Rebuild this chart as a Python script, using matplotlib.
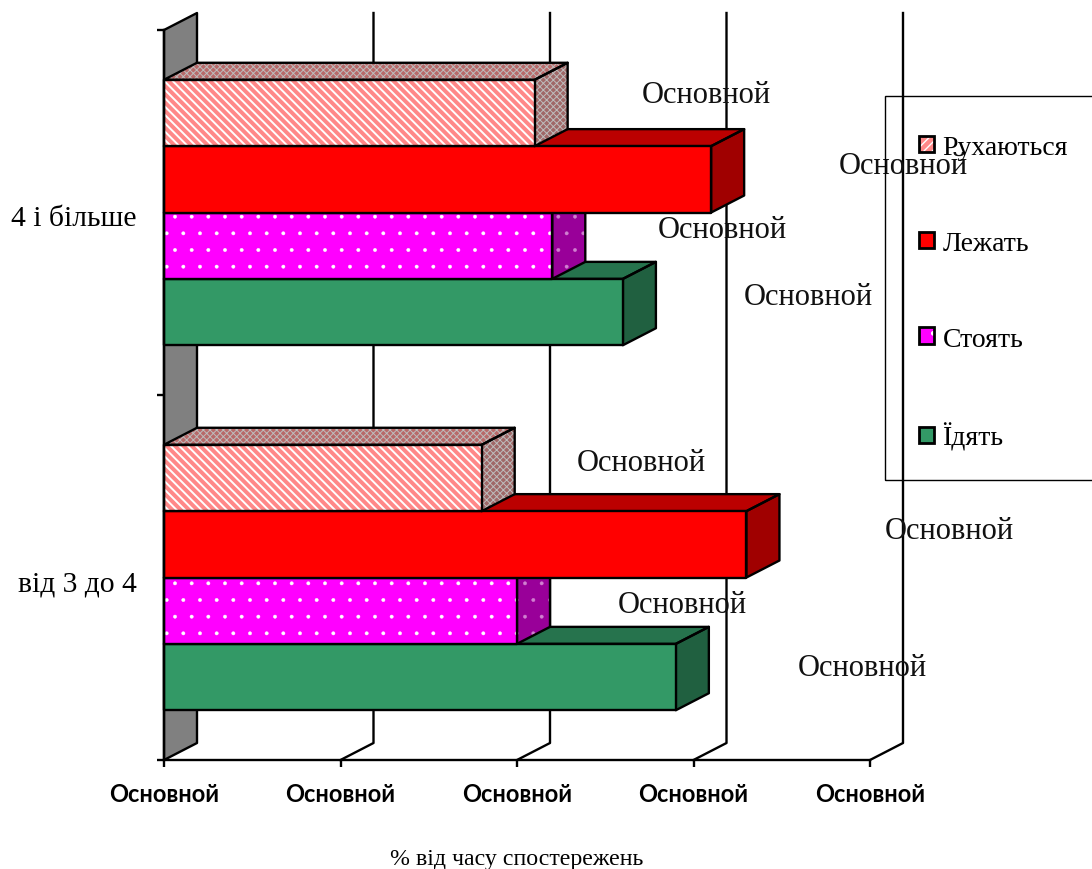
import matplotlib
matplotlib.use("Agg")
import matplotlib.pyplot as plt
from matplotlib.patches import Polygon, Patch, Rectangle
from matplotlib.legend_handler import HandlerTuple
from matplotlib.transforms import Affine2D

# ---- data ----
categories = ["від 3 до 4", "4 і більше"]
series_names = ["Їдять", "Стоять", "Лежать", "Рухаються"]
eating = [29, 26]
standing = [20, 22]
lying = [33, 31]
moving = [18, 21]
x_ticks = [0, 10, 20, 30, 40]
x_tick_label = "Основной"
value_label = "Основной"
x_title = "% від часу спостережень"

# ---- layout and style ----
W, H = 1092, 870
AX_L, AX_R, AX_T, AX_B = 164, 870, 31, 761
DEPTH_PX = (33, 17)
GAP = 1.5
serif = "Liberation Serif"
styles = [
    dict(face="#339966", top="#26734D", side="#206040", hatch=None, hc=None, lw=1.0,
         shatch=None, sh=None, slw=1.0),
    dict(face="#FF00FF", top="#990099", side="#990099", hatch=".", hc="white", lw=0.3,
         shatch=".", sh="#D080D0", slw=0.3),
    dict(face="#FF0000", top="#BB0000", side="#A00000", hatch=None, hc=None, lw=1.0,
         shatch=None, sh=None, slw=1.0),
    dict(face="#FF8888", top="#B86A6A", side="#A06868", hatch="\\\\\\\\", hc="white", lw=1.4,
         shatch="xxxxx", sh="#BDBDBD", slw=0.7),
]
label_shift_px = [  # per series, per category: from bar end/centre to label centre
    [(186, 10), (185, 16)],
    [(165, 6), (170, 16)],
    [(203, 14), (192, 14)],
    [(160, 15), (172, 18)],
]

fig = plt.figure(figsize=(W / 100, H / 100), dpi=100)
ax = fig.add_axes([AX_L / W, 1 - AX_B / H, (AX_R - AX_L) / W, (AX_B - AX_T) / H])
ax.set_xlim(x_ticks[0], x_ticks[-1])
ax.set_ylim(0, len(categories))
ax.patch.set_visible(False)

ddx = DEPTH_PX[0] * (x_ticks[-1] - x_ticks[0]) / (AX_R - AX_L)
ddy = DEPTH_PX[1] * len(categories) / (AX_B - AX_T)
bar_h = 1 / (len(series_names) + GAP)
LW = 1.7


def hatched(patch, lw):
    if hasattr(patch, "set_hatch_linewidth"):
        patch.set_hatch_linewidth(lw)
    return patch


def poly(pts, face, hatch=None, hc=None, hlw=1.0, z=3):
    if hatch:
        ax.add_patch(hatched(Polygon(pts, closed=True, facecolor=face, edgecolor=hc, hatch=hatch,
                                     lw=0, zorder=z, clip_on=False), hlw))
    else:
        ax.add_patch(Polygon(pts, closed=True, facecolor=face, edgecolor="none", lw=0,
                             zorder=z, clip_on=False))
    ax.add_patch(Polygon(pts, closed=True, fill=False, edgecolor="black", lw=LW,
                         joinstyle="round", zorder=z + 0.01, clip_on=False))


# side wall
poly([(0, 0), (ddx, ddy), (ddx, 2 + ddy), (0, 2)], "#808080", z=1)
# back-wall grid and floor lines
for t in x_ticks[1:]:
    ax.plot([t, t + ddx, t + ddx], [0, ddy, 2 + ddy], color="black", lw=LW, zorder=1,
            clip_on=False, solid_joinstyle="round")

values = [eating, standing, lying, moving]
z = 3
for c, cat in enumerate(categories):
    for s, name in enumerate(series_names):
        st = styles[s]
        v = values[s][c]
        y0 = c + (GAP / 2 + s) * bar_h
        y1 = y0 + bar_h
        poly([(0, y1), (ddx, y1 + ddy), (v + ddx, y1 + ddy), (v, y1)], st["top"],
             st["shatch"], st["sh"], st["slw"], z=z)
        poly([(v, y0), (v + ddx, y0 + ddy), (v + ddx, y1 + ddy), (v, y1)], st["side"],
             st["shatch"], st["sh"], st["slw"], z=z)
        poly([(0, y0), (v, y0), (v, y1), (0, y1)], st["face"], st["hatch"], st["hc"], st["lw"],
             z=z + 0.1)
        z += 1
        sx, sy = label_shift_px[s][c]
        ax.annotate(value_label, xy=(v, (y0 + y1) / 2), xytext=(sx, sy),
                    textcoords="offset pixels", ha="center", va="center",
                    family=serif, fontsize=22, color="#111111", zorder=30,
                    annotation_clip=False)

# axes
for k in ("top", "right"):
    ax.spines[k].set_visible(False)
for k in ("left", "bottom"):
    ax.spines[k].set_linewidth(LW)
    ax.spines[k].set_zorder(40)
ax.set_xticks(x_ticks)
ax.set_xticklabels([x_tick_label] * len(x_ticks), family="Lato", fontweight="bold",
                   fontsize=17)
ax.tick_params(axis="x", length=5, width=LW, pad=10.5)
ax.set_yticks(range(len(categories) + 1))
ax.set_yticklabels([""] * (len(categories) + 1))
ax.set_yticks([i + 0.5 for i in range(len(categories))], minor=True)
ax.set_yticklabels(categories, minor=True, family=serif, fontsize=21.3)
ax.tick_params(axis="y", which="major", length=5, width=LW)
ax.tick_params(axis="y", which="minor", length=0, pad=19.5)
for lbl in ax.get_yticklabels(minor=True):
    lbl.set_transform(lbl.get_transform() + Affine2D().translate(0, -3))
ax.set_xlabel(x_title, family=serif, fontsize=17.2, labelpad=31.5)

# legend: entries on the figure, frame drawn apart so it can run past the right edge
handles = []
for st in styles:
    fill = Patch(facecolor=st["face"], edgecolor=st["hc"] or "none", linewidth=0,
                 hatch=("////" if st["hatch"] and st["hatch"].startswith("\\") else st["hatch"]))
    outline = Patch(fill=False, edgecolor="black", linewidth=2.0)
    handles.append((fill, outline))
handles = handles[::-1]
leg = ax.legend(handles, series_names[::-1],
                loc="upper left",
                bbox_to_anchor=(885 / W, 1 - 486 / H, 300 / W, (480 - 96) / H),
                bbox_transform=fig.transFigure, borderaxespad=0, frameon=False,
                handler_map={tuple: HandlerTuple(ndivide=1, pad=0)},
                prop={"family": serif, "size": 20},
                handlelength=0.55, handleheight=0.55, handletextpad=0.3,
                labelspacing=2.55, borderpad=1.22)
leg.set_zorder(50)
fig.add_artist(Rectangle((885 / W, 1 - 480.5 / H), 300 / W, 384 / H, fill=False, edgecolor="black",
                         lw=1.0, transform=fig.transFigure, zorder=50))

fig.savefig("out.png", dpi=100)
